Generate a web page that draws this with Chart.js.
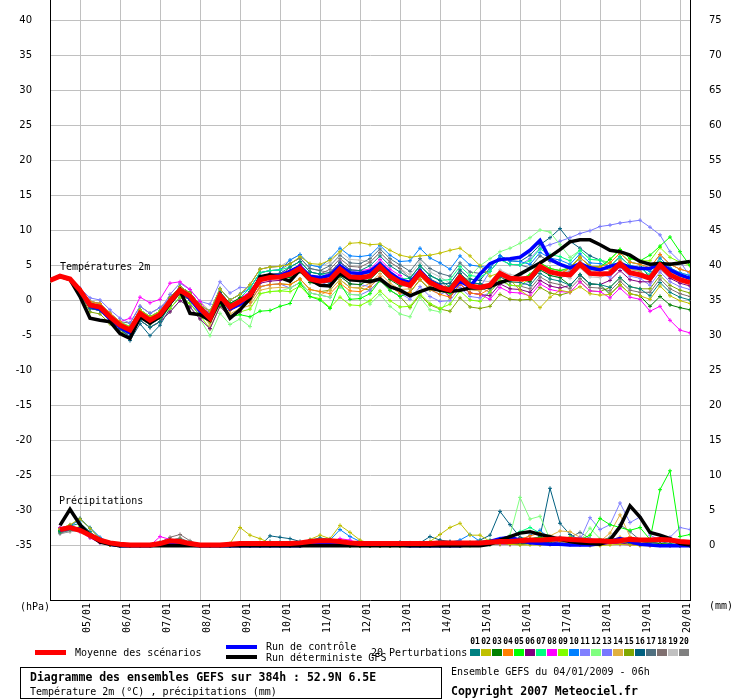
<!DOCTYPE html>
<html>
<head>
<meta charset="utf-8">
<script src="https://cdn.jsdelivr.net/npm/chart.js@4/dist/chart.umd.min.js"></script>
<style>
  body { margin: 0; background: #fff; }
  canvas { display: block; }
</style>
</head>
<body>
<canvas id="graphe" width="740" height="700"></canvas>
<script>
// échéances : toutes les 6h depuis le 04/01 06h
const heures = Array.from({ length: 65 }, (_, i) => i * 6);
const joursHeures = [18, 42, 66, 90, 114, 138, 162, 186, 210, 234, 258, 282, 306, 330, 354, 378];
const joursEtiquettes = ['05/01', '06/01', '07/01', '08/01', '09/01', '10/01', '11/01', '12/01',
  '13/01', '14/01', '15/01', '16/01', '17/01', '18/01', '19/01', '20/01'];
const ticksTemp = [-35, -30, -25, -20, -15, -10, -5, 0, 5, 10, 15, 20, 25, 30, 35, 40];
const ticksPrecip = [0, 5, 10, 15, 20, 25, 30, 35, 40, 45, 50, 55, 60, 65, 70, 75];

// températures 2m (°C)
const moyTemp = [2.9,3.5,3.1,1.5, -0.6,-0.9,-2.3,-3.5, -4.2,-1.8,-2.8,-2.0, -0.1,1.5,0.6,-1.1, -2.5,0.7,-0.9,-0.1, 0.8,3.0,3.3,3.4, 3.8,4.6,3.1,2.8, 3.0,4.5,3.4,3.3, 3.5,4.9,3.5,2.6, 2.2,4.0,2.6,1.9, 1.5,3.4,2.1,1.9, 2.2,3.9,3.2,3.1, 3.2,4.9,4.1,3.8, 3.7,5.2,3.9,3.8, 3.9,5.3,4.0,3.7, 3.2,5.1,3.7,3.0,2.6];
const ctrlTemp = [2.9,3.5,3.1,1.2, -0.8,-1.2,-2.6,-3.8, -4.6,-2.2,-3.0,-2.2, 0.0,1.6,0.3,-1.5, -2.7,0.9,-1.2,-0.5, 0.5,3.2,3.5,3.6, 4.2,4.9,3.5,3.3, 3.6,5.0,4.0,3.9, 4.2,5.3,4.0,3.0, 2.6,4.3,2.8,2.1, 1.3,2.8,2.0,3.8, 5.3,5.9,6.0,6.2, 7.2,8.6,5.9,5.2, 4.7,5.3,4.7,4.4, 4.9,5.3,4.8,4.6, 4.6,5.3,4.4,3.7,3.2];
const detTemp = [2.9,3.5,3.0,0.6, -2.5,-2.8,-3.0,-4.7, -5.4,-2.3,-3.2,-2.3, -0.4,1.5,-1.8,-2.0, -2.8,0.1,-2.5,-1.3, 0.3,3.4,3.7,3.3, 2.8,4.4,3.0,2.2, 2.1,3.9,3.0,2.9, 2.7,3.1,2.0,1.5, 0.7,1.3,1.8,1.5, 1.3,1.5,1.8,1.8, 2.0,2.6,3.0,3.8, 4.6,5.4,6.3,7.3, 8.4,8.7,8.7,8.0, 7.2,7.0,6.5,5.6, 5.2,5.3,5.2,5.4,5.6];

const pert01Temp = [2.9,3.5,3.1,1.3, -1.1,-1.4,-2.8,-4.0, -5.2,-2.8,-3.8,-3.0, -0.6,1.0,0.1,-1.6, -2.5,0.7,-0.9,-0.1, 1.3,3.5,3.8,3.9, 4.8,5.6,4.1,3.8, 4.0,5.5,4.4,4.3, 5.0,6.4,5.0,4.1, 3.2,5.0,3.6,2.9, 2.0,3.9,2.6,2.4, 1.7,3.4,2.7,2.6, 2.2,3.9,3.1,2.8, 2.2,3.7,2.4,2.3, 1.9,3.3,2.0,1.7, 0.7,2.6,1.2,0.5,0.1];
const pert02Temp = [2.9,3.5,3.1,1.6, -0.3,-0.6,-2.0,-3.2, -3.7,-1.3,-2.3,-1.5, 0.4,2.0,1.1,-0.6, -1.5,1.7,0.1,0.9, 2.3,4.5,4.8,4.9, 5.2,6.3,5.3,5.2, 5.8,7.0,8.2,8.3, 8.0,8.1,7.2,6.5, 6.2,6.4,6.5,6.8, 7.2,7.5,6.4,5.0, 3.5,4.0,3.0,1.5, 0.5,-1.0,0.5,1.5, 1.2,2.0,1.0,0.8, 0.9,2.3,1.0,0.7, 0.2,2.1,0.7,0.0,-0.4];
const pert03Temp = [2.9,3.5,3.1,1.4, -0.9,-1.2,-2.6,-3.8, -4.2,-1.8,-2.8,-2.0, 0.4,2.0,1.1,-0.6, -2.0,1.2,-0.4,0.4, 0.8,3.0,3.3,3.4, 3.3,4.1,2.6,2.3, 2.0,3.5,2.4,2.3, 3.0,4.4,3.0,2.1, 2.2,4.0,2.6,1.9, 2.0,3.9,2.6,2.4, 2.2,3.9,3.2,3.1, 2.7,4.4,3.6,3.3, 2.2,3.7,2.4,2.3, 0.9,2.3,1.0,0.7, -0.8,0.6,-0.6,-1.0,-1.3];
const pert04Temp = [2.9,3.5,3.1,1.7, -0.1,-0.4,-1.8,-3.0, -3.9,-1.5,-2.5,-1.7, -0.6,1.0,0.1,-1.6, -3.0,0.2,-1.4,-0.6, -0.2,2.0,2.3,2.4, 2.3,3.1,1.6,1.3, 1.0,2.5,1.4,1.3, 2.0,3.4,2.0,1.1, 1.2,3.0,1.6,0.9, 0.5,2.4,1.1,0.9, 1.7,3.4,2.7,2.6, 3.2,4.9,4.1,3.8, 4.7,6.2,4.9,4.8, 5.4,6.8,5.5,5.2, 4.7,6.6,5.2,4.5,4.1];
const pert05Temp = [2.9,3.5,3.1,1.5, -0.6,-0.9,-2.3,-3.5, -3.7,-1.3,-2.3,-1.5, -0.1,1.5,0.6,-1.1, -3.0,-0.5,-2.3,-2.0, -2.3,-1.5,-1.4,-0.8, -0.4,2.5,0.6,0.1, -1.1,2.5,0.2,0.3, 1.0,2.9,1.5,0.6, 1.2,3.0,1.6,1.4, 1.0,2.9,1.8,1.9, 2.2,3.9,3.2,3.1, 3.7,5.4,4.6,4.3, 4.7,6.2,4.9,4.8, 5.9,7.3,6.0,5.7, 6.5,7.8,9.1,7.0,5.0];
const pert06Temp = [2.9,3.5,3.1,1.3, -1.1,-1.4,-2.8,-4.0, -5.2,-2.8,-3.8,-3.0, -1.6,0.0,-0.9,-2.6, -4.0,-0.8,-2.4,-1.6, 0.3,2.5,2.8,2.9, 4.3,5.1,3.6,3.3, 3.5,5.0,3.9,3.8, 3.5,4.9,3.5,2.6, 2.2,4.0,2.6,1.9, 0.5,2.4,1.1,0.9, 0.7,2.4,1.7,1.6, 1.2,2.9,2.1,1.8, 2.2,3.7,2.4,2.3, 2.9,4.3,3.0,2.7, 2.7,4.6,3.2,2.5,2.1];
const pert07Temp = [2.9,3.5,3.1,1.7, -0.1,-0.4,-1.8,-3.0, -3.7,-1.3,-2.3,-1.5, -0.1,1.5,0.6,-1.1, -2.0,1.2,-0.4,0.4, 1.8,4.0,4.3,4.4, 4.8,5.6,4.1,3.8, 3.5,5.0,3.9,3.8, 4.0,5.4,4.0,3.1, 3.2,5.0,3.6,2.9, 3.0,4.9,3.6,3.4, 4.2,5.9,5.2,5.1, 5.7,7.4,6.6,6.3, 5.7,7.2,5.9,5.8, 4.9,6.3,5.0,4.7, 3.7,5.6,4.2,3.5,3.1];
const pert08Temp = [2.9,3.5,3.1,1.7, -0.1,-0.4,-1.8,-3.0, -2.5,0.5,-0.3,0.2, 2.5,2.7,1.6,-0.1, -2.0,1.2,-0.4,0.4, 1.3,3.5,3.8,3.9, 4.3,5.1,3.6,3.3, 4.0,5.5,4.4,4.3, 4.5,5.9,4.5,3.6, 2.2,4.0,2.6,1.9, 0.5,2.4,1.1,0.9, 0.2,1.9,1.2,1.1, 0.7,2.4,1.6,1.3, 1.2,2.7,1.4,1.3, 0.4,1.8,0.5,0.2, -1.5,-0.8,-2.8,-4.2,-4.6];
const pert09Temp = [2.9,3.5,3.1,1.5, -0.6,-0.9,-2.3,-3.5, -4.7,-2.3,-3.3,-2.5, -1.1,0.5,-0.4,-2.1, -4.0,-0.8,-2.4,-1.6, -1.2,1.0,1.3,1.4, 1.3,2.1,0.6,0.3, -1.0,0.5,-0.6,-0.7, 0.0,1.4,0.0,-0.9, -0.8,1.0,-0.4,-1.1, -0.5,1.4,0.1,-0.1, 1.2,2.9,2.2,2.1, 3.2,4.9,4.1,3.8, 4.7,6.2,4.9,4.8, 5.9,7.3,6.0,5.7, 5.7,7.6,6.2,5.5,5.1];
const pert10Temp = [2.9,3.5,3.1,1.3, -1.1,-1.4,-2.8,-4.0, -4.7,-2.3,-3.3,-2.5, 0.4,2.0,1.1,-0.6, -1.5,1.7,0.1,0.9, 1.8,4.0,4.3,4.4, 5.8,6.6,5.1,4.8, 6.0,7.5,6.4,6.3, 6.5,7.9,6.5,5.6, 5.7,7.5,6.1,5.4, 4.5,6.4,5.1,4.9, 4.7,6.4,5.7,5.6, 5.2,6.9,6.1,5.8, 5.2,6.7,5.4,5.3, 4.9,6.3,5.0,4.7, 4.2,6.1,4.7,4.0,3.6];
const pert11Temp = [2.9,3.5,3.1,1.5, -0.6,-0.9,-2.3,-3.5, -3.7,-1.3,-2.3,-1.5, 0.9,2.5,1.6,-0.1, -0.5,2.7,1.1,1.9, 1.8,4.0,4.3,4.4, 3.8,4.6,3.1,2.8, 2.0,3.5,2.4,2.3, 2.0,3.4,2.0,1.1, 0.2,2.0,0.6,-0.1, 0.0,1.9,0.6,0.4, 1.2,2.9,2.2,2.1, 2.7,4.4,3.6,3.3, 3.7,5.2,3.9,3.8, 3.4,4.8,3.5,3.2, 2.2,4.1,2.7,2.0,1.6];
const pert12Temp = [2.9,3.5,3.1,1.3, -1.1,-1.4,-2.8,-4.0, -5.2,-2.8,-3.8,-3.0, -1.6,0.0,-0.9,-2.6, -5.0,-1.8,-3.4,-2.6, -3.7,1.0,1.3,1.4, 1.8,2.6,1.1,0.8, 0.5,2.0,0.9,0.8, -0.5,0.9,-0.8,-1.9, -2.3,0.5,-1.3,-1.6, 0.5,2.4,3.5,5.0, 6.0,7.0,7.5,8.2, 9.0,10.1,9.8,8.0, 6.2,7.2,5.9,5.8, 5.4,6.8,5.5,5.2, 4.2,6.1,4.7,4.0,3.6];
const pert13Temp = [2.9,3.5,3.1,1.8, 0.4,0.1,-1.3,-2.5, -3.2,-0.8,-1.8,-1.0, 0.4,2.0,1.1,-0.6, -2.5,0.7,-0.9,-0.1, -0.2,2.0,2.3,2.4, 1.8,2.6,1.1,0.8, 0.5,2.0,0.9,0.8, 1.5,2.9,1.5,0.6, 1.2,3.0,1.6,0.9, 1.5,3.4,2.1,1.9, 4.2,5.9,5.2,5.1, 6.0,7.5,8.0,8.5, 9.0,9.6,10.0,10.6, 10.8,11.1,11.3,11.5, 10.5,9.4,7.0,5.6,3.5];
const pert14Temp = [2.9,3.5,3.1,1.7, -0.1,-0.4,-1.8,-3.0, -4.2,-1.8,-2.8,-2.0, -0.6,1.0,0.1,-1.6, -3.5,-0.3,-1.9,-1.1, -0.7,1.5,1.8,1.9, 1.8,2.6,1.1,0.8, 1.5,3.0,1.9,1.8, 2.5,3.9,2.5,1.6, 1.7,3.5,2.1,1.4, 1.0,2.9,1.6,1.4, 2.2,3.9,3.2,3.1, 3.7,5.4,4.6,4.3, 4.7,6.2,4.9,4.8, 4.4,5.8,4.5,4.2, 3.2,5.1,3.7,3.0,2.6];
const pert15Temp = [2.9,3.5,3.1,1.0, -1.6,-1.9,-3.3,-4.5, -4.7,-2.3,-3.3,-2.5, -0.6,1.0,0.1,-1.6, -3.0,0.2,-1.4,-0.6, -0.2,2.0,2.3,2.4, 2.3,3.1,1.6,1.3, 1.5,3.0,1.9,1.8, 1.5,2.9,1.5,0.6, -1.0,0.8,-0.6,-1.2, -1.5,0.4,-0.9,-1.1, -0.8,0.9,0.2,0.1, 0.2,1.9,1.1,0.8, 1.2,2.7,1.4,1.3, 1.9,3.3,2.0,1.7, 1.7,3.6,2.2,1.5,1.1];
const pert16Temp = [2.9,3.5,3.1,1.2, -1.1,-1.4,-2.8,-4.0, -5.7,-3.3,-5.0,-3.5, -1.1,0.5,-0.4,-2.1, -2.5,0.7,-0.9,-0.1, 1.3,3.5,3.8,3.9, 3.8,4.6,3.1,2.8, 2.5,4.0,2.9,2.8, 3.5,4.9,3.5,2.6, 2.7,4.5,3.1,2.4, 2.5,4.4,3.1,2.9, 4.7,6.4,5.7,5.6, 6.5,8.0,9.0,10.3, 8.5,7.5,6.4,5.8, 5.4,6.8,5.5,5.2, 3.2,5.1,3.7,3.0,2.6];
const pert17Temp = [2.9,3.5,3.1,1.5, -0.6,-0.9,-2.3,-3.5, -4.2,-1.8,-2.8,-2.0, 0.4,2.0,1.1,-0.6, -1.5,1.7,0.1,0.9, 2.3,4.5,4.8,4.9, 5.3,6.1,4.6,4.3, 5.0,6.5,5.4,5.3, 6.0,7.4,6.0,5.1, 4.2,6.0,4.6,3.9, 3.5,5.4,4.1,3.9, 4.2,5.9,5.2,5.1, 4.7,6.4,5.6,5.3, 4.7,6.2,4.9,4.8, 4.4,5.8,4.5,4.2, 3.2,5.1,3.7,3.0,2.6];
const pert18Temp = [2.9,3.5,3.1,1.7, -0.1,-0.4,-1.8,-3.0, -3.2,-0.8,-1.8,-1.0, 0.4,2.0,1.1,-0.6, -3.0,0.2,-1.4,-0.6, 0.8,3.0,3.3,3.4, 4.8,5.6,4.1,3.8, 4.5,6.0,4.9,4.8, 5.5,6.9,5.5,4.6, 3.2,5.0,3.6,2.9, 1.5,3.4,2.1,1.9, 1.2,2.9,2.2,2.1, 1.7,3.4,2.6,2.3, 1.7,3.2,1.9,1.8, 1.4,2.8,1.5,1.2, 1.2,3.1,1.7,1.0,0.6];
const pert19Temp = [2.9,3.5,3.1,1.5, -0.6,-0.9,-2.3,-3.5, -3.7,-1.3,-2.3,-1.5, 0.9,2.5,1.6,-0.1, -1.5,1.7,0.1,0.9, 2.3,4.5,4.8,4.9, 5.8,6.6,5.1,4.8, 5.5,7.0,5.9,5.8, 5.5,6.9,5.5,4.6, 3.7,5.5,4.1,3.4, 2.5,4.4,3.1,2.9, 2.7,4.4,3.7,3.6, 3.2,4.9,4.1,3.8, 3.2,4.7,3.4,3.3, 3.9,5.3,4.0,3.7, 3.7,5.6,4.2,3.5,3.1];
const pert20Temp = [2.9,3.5,3.1,1.3, -1.1,-1.4,-2.8,-4.0, -5.2,-2.8,-3.8,-3.0, -0.6,1.0,0.1,-1.6, -2.0,1.2,-0.4,0.4, 1.8,4.0,4.3,4.4, 5.3,6.1,4.6,4.3, 4.0,5.5,4.4,4.3, 4.0,5.4,4.0,3.1, 1.7,3.5,2.1,1.4, 1.0,2.9,1.6,1.4, 2.2,3.9,3.2,3.1, 3.7,5.4,4.6,4.3, 4.2,5.7,4.4,4.3, 4.9,6.3,5.0,4.7, 4.7,6.6,5.2,4.5,4.1];

// précipitations sur 6h (mm), de 12h le 04/01 au 20/01 06h
const moyPrecip = [2.3,2.6,2.2,1.5,0.8,0.4,0.2,0.1,0.1,0.1,0.3,0.7,0.6,0.3,0.1,0.1,
  0.1,0.2,0.3,0.3,0.3,0.3,0.3,0.3,0.4,0.6,0.7,0.7,0.6,0.4,0.3,0.3,
  0.3,0.3,0.3,0.3,0.3,0.3,0.4,0.4,0.4,0.4,0.4,0.5,0.6,0.6,0.7,0.8,
  0.8,0.9,1.0,0.9,0.8,0.7,0.7,0.6,0.7,0.9,0.8,0.8,0.9,0.8,0.6,0.5];
const ctrlPrecip = [2.2,2.5,2.4,1.6,0.8,0.2,0,0,0,0,0.2,0.5,0.4,0.1,0,0,
  0,0,0,0,0,0,0,0,0,0.2,0.3,0.4,0.3,0.3,0.2,0.3,
  0.3,0.2,0.1,0,0,0,0,0,0,0.2,0.4,0.6,1.0,1.2,0.8,0.4,
  0.3,0.2,0.2,0.1,0.1,0.1,0.3,0.6,1.0,0.6,0.2,0.1,0,0,0,0];
const detPrecip = [2.9,5.2,3.0,1.5,0.5,0.2,0,0,0,0,0,0,0,0,0,0,
  0,0,0,0,0,0,0,0,0,0,0,0,0,0,0,0,
  0,0,0,0,0,0,0,0,0,0,0,0.2,0.8,1.3,1.8,2.0,
  1.6,1.3,0.9,0.6,0.4,0.3,0.2,0.8,2.7,5.7,4.1,1.9,1.5,1.0,0.3,0.1];

const pert01Precip = [2.0,2.8,3.2,2.0,0.8,0.3,0.1,0,0,0,0.3,0.8,0.5,0.2,0,0,
  0,0,0,0,0,0.6,0.5,0.4,0.3,0.8,1.1,0.9,0.5,0.3,0.2,0.2,
  0.2,0.3,0.5,0.4,0.3,0.4,0.6,0.5,0.3,0.2,0.3,0.5,0.8,0.6,0.5,0.4,
  0.6,0.8,1.2,0.9,0.5,0.3,0.4,0.6,0.8,0.5,0.3,0.4,0.6,0.3,0.2,0.1];
const pert02Precip = [2.4,3.0,3.8,2.5,1.0,0.3,0,0,0,0,0.2,0.6,0.5,0.2,0,0,
  0,0.3,2.6,1.5,1.0,0.4,0.2,0.1,0.3,0.9,1.5,1.0,2.9,1.9,0.8,0.3,
  0.2,0.1,0.1,0.2,0.3,0.6,1.6,2.6,3.2,1.5,1.5,0.6,0.3,0.2,0.1,0.1,
  0.1,0.2,0.3,0.2,0.1,0,0,0.1,0.2,0.1,0,0,0.1,0,0,0];
const pert03Precip = [2.1,2.5,2.6,1.6,0.7,0.2,0,0,0,0,0.4,0.9,0.6,0.2,0,0,
  0,0,0,0,0,0,0,0,0,0.2,0.3,0.2,0.1,0,0,0,
  0,0,0,0,0,0,0,0,0,0.2,0.5,0.7,0.5,0.3,0.2,0.3,
  0.5,0.4,0.3,0.2,0.3,0.5,0.8,1.0,0.7,0.4,0.3,0.5,0.3,0.2,0.1,0];
const pert04Precip = [2.3,2.7,2.4,1.4,0.6,0.1,0,0,0,0,0.3,0.8,0.7,0.3,0,0,
  0,0,0,0,0,0,0,0,0,0.3,0.5,0.4,0.2,0.1,0,0,
  0,0,0,0,0,0,0,0,0.1,0.3,0.5,0.4,0.3,0.5,0.9,1.4,
  1.8,1.2,0.6,0.4,0.3,0.2,0.5,0.8,1.2,0.9,0.6,0.8,1.0,0.6,0.3,0.1];
const pert05Precip = [2.2,2.6,2.3,1.3,0.5,0.1,0,0,0,0,0.2,0.6,0.4,0.2,0,0,
  0,0,0,0,0,0,0,0,0,0.2,0.4,0.3,0.1,0,0,0,
  0,0,0,0,0,0,0,0,0,0,0.1,0.2,0.3,0.4,0.6,1.0,
  1.2,1.0,0.8,0.7,0.8,1.5,3.9,3.0,2.6,2.2,2.6,0.9,8.0,10.7,1.3,1.6];
const pert06Precip = [2.5,2.9,2.3,1.3,0.5,0.1,0,0,0,0,0.3,0.7,0.8,0.3,0,0,
  0,0,0,0,0,0,0,0,0,0.2,0.3,0.3,0.2,0.1,0,0,
  0,0,0,0,0,0,0,0,0,0.1,0.2,0.3,0.3,0.2,0.3,0.4,
  0.4,0.3,0.6,0.9,0.5,0.2,0.1,0.3,0.4,0.2,0.1,0.1,0.2,0.1,0,0];
const pert07Precip = [2.1,2.4,2.5,1.7,0.8,0.3,0,0,0,0,0.2,0.5,0.5,0.2,0,0,
  0,0,0,0,0,0,0,0,0.1,0.3,0.5,0.4,0.3,0.2,0.1,0.1,
  0.1,0.1,0.2,0.2,0.3,0.3,0.2,0.2,0.3,0.5,0.6,0.8,1.0,1.3,2.0,2.6,
  1.8,1.0,0.6,0.5,0.4,0.4,0.6,0.8,0.6,0.4,0.3,0.2,0.2,0.1,0,0];
const pert08Precip = [2.6,2.8,2.0,1.1,0.4,0.1,0,0,0,0,1.3,0.9,0.7,0.3,0,0,
  0,0,0,0,0,0,0,0,0,0.2,0.4,0.6,1.0,0.8,0.3,0.1,
  0,0,0,0,0,0,0,0,0,0.1,0.2,0.3,0.2,0.2,0.3,0.3,
  0.2,0.2,0.3,0.2,0.1,0.1,0.2,0.3,0.2,0.1,0.1,0,0,0,0,0];
const pert09Precip = [2.0,2.4,2.7,1.8,0.8,0.2,0,0,0,0,0.3,0.8,0.9,0.4,0,0,
  0,0,0,0,0,0,0,0,0.1,0.3,0.5,0.4,0.2,0.1,0,0,
  0,0,0,0,0,0,0,0,0.1,0.2,0.3,0.3,0.4,0.5,0.6,0.8,
  0.6,0.5,0.9,1.2,0.8,0.6,0.4,0.5,0.6,0.4,0.3,0.2,0.3,0.2,0.1,0];
const pert10Precip = [2.2,2.8,3.7,2.6,1.2,0.4,0.1,0,0,0,0.2,0.6,0.4,0.2,0,0,
  0,0,0,0,0,0,0,0,0.1,0.3,0.6,0.8,2.3,1.3,0.6,0.2,
  0.1,0.1,0.1,0.1,0.1,0.2,0.3,0.5,0.8,1.6,0.6,0.4,0.3,0.3,0.6,1.5,
  2.2,1.0,0.6,0.4,0.3,0.2,0.3,0.5,0.6,0.4,0.3,0.2,0.1,0.1,0,0];
const pert11Precip = [2.3,2.6,2.2,1.4,0.6,0.2,0,0,0,0,0.3,0.6,0.5,0.3,0,0,
  0,0,0,0,0,0,0,0,0,0.2,0.4,0.4,0.3,0.2,0.1,0.1,
  0.1,0.1,0.2,0.2,0.3,0.2,0.2,0.2,0.3,0.3,0.4,0.5,0.7,0.6,0.5,0.6,
  0.8,0.7,0.5,0.4,0.8,4.0,2.3,3.0,6.1,3.3,4.1,1.5,0.8,1.2,2.6,2.3];
const pert12Precip = [2.1,2.5,2.4,1.5,0.7,0.2,0,0,0,0,0.2,0.5,0.4,0.2,0,0,
  0,0,0,0,0,0,0,0,0,0.2,0.3,0.3,0.2,0.1,0,0,
  0,0,0,0,0,0,0,0,0,0.1,0.3,0.5,0.8,1.5,6.9,3.8,
  4.2,0.9,0.5,0.4,0.6,2.5,1.0,0.6,0.4,0.3,0.2,0.2,0.1,0.1,0,0];
const pert13Precip = [2.2,2.6,2.5,1.6,0.7,0.2,0,0,0,0,0.2,0.6,0.5,0.2,0,0,
  0,0,0,0,0,0,0,0,0,0.2,0.3,0.3,0.2,0.1,0,0,
  0,0,0,0,0,0,0,0,0.1,0.2,0.3,0.4,0.5,0.4,0.3,0.4,
  0.5,0.6,0.8,1.0,1.2,1.0,0.8,0.6,0.5,0.4,0.3,0.3,0.2,0.1,0.1,0];
const pert14Precip = [2.4,2.7,2.5,1.5,0.6,0.1,0,0,0,0,0.2,0.7,0.6,0.2,0,0,
  0,0,0,0,0,0,0,0,0,0.2,0.4,0.3,0.2,0.1,0,0,
  0,0,0,0,0,0,0,0,0,0.1,0.2,0.3,0.4,0.4,0.5,0.7,
  0.9,1.4,2.1,2.0,1.2,0.8,0.6,1.8,4.4,1.3,0.6,0.4,0.3,0.2,0.1,0];
const pert15Precip = [2.0,2.3,2.2,1.4,0.6,0.2,0,0,0,0,0.3,0.5,0.4,0.2,0,0,
  0,0,0,0,0,0,0,0,0,0.1,0.2,0.2,0.1,0,0,0,
  0,0,0,0,0,0,0,0,0,0.1,0.2,0.2,0.3,0.2,0.2,0.3,
  0.3,0.2,0.2,0.3,0.4,0.3,0.2,0.3,0.4,0.3,0.2,0.2,0.1,0.1,0,0];
const pert16Precip = [2.2,2.9,3.9,2.5,1.0,0.3,0,0,0,0,0.2,0.5,0.5,0.2,0,0,
  0,0,0,0,0,1.4,1.2,1.0,0.6,0.4,0.3,0.3,0.2,0.2,0.3,0.3,
  0.3,0.2,0.2,0.3,0.4,1.3,0.8,0.6,0.5,0.4,0.8,1.5,4.9,3.0,1.2,0.9,
  1.3,8.2,3.2,1.6,0.8,0.5,0.4,0.3,0.5,0.3,0.2,0.2,0.1,0.1,0,0];
const pert17Precip = [1.8,2.2,2.3,1.5,0.7,0.2,0,0,0,0,0.3,0.8,1.0,0.4,0,0,
  0,0,0,0,0,0,0,0,0,0.2,0.4,0.5,0.3,0.2,0.1,0.1,
  0.1,0.1,0.2,0.2,0.3,0.5,0.7,0.5,0.4,0.3,0.3,0.4,0.5,0.6,0.8,0.7,
  0.6,0.5,0.8,1.2,1.9,1.0,0.6,1.2,3.0,2.0,0.8,0.5,0.3,0.2,0.1,0];
const pert18Precip = [1.9,2.3,2.1,1.2,0.5,0.1,0,0,0,0,0.5,1.2,1.6,0.7,0.1,0,
  0,0,0,0,0,0,0,0,0,0.2,0.3,0.3,0.2,0.1,0,0,
  0,0,0,0,0,0,0,0,0,0.1,0.2,0.2,0.2,0.3,0.3,0.4,
  0.4,0.3,0.3,0.2,0.3,0.4,0.5,0.4,0.3,0.2,0.2,0.1,0.1,0,0,0];
const pert19Precip = [1.8,2.1,2.0,1.3,0.5,0.1,0,0,0,0,0.2,0.5,0.4,0.2,0,0,
  0,0,0,0,0,0,0,0,0,0.1,0.2,0.2,0.1,0,0,0,
  0,0,0,0,0,0,0,0,0,0.1,0.1,0.2,0.2,0.2,0.3,0.3,
  0.3,0.2,0.3,0.3,0.2,0.2,0.3,0.4,0.3,0.2,0.1,0.1,0.1,0,0,0];
const pert20Precip = [1.7,2.0,2.1,1.4,0.6,0.2,0,0,0,0,0.3,0.7,1.1,0.5,0.1,0,
  0,0,0,0,0,0,0,0,0,0.2,0.3,0.3,0.2,0.1,0,0,
  0,0,0,0,0,0,0,0,0,0.1,0.2,0.3,0.3,0.3,0.4,0.5,
  0.5,0.6,0.5,0.4,0.3,0.4,0.5,0.6,0.5,0.4,0.3,0.3,0.2,0.1,0.1,0];

const couleursPert = ['#008080', '#c0c000', '#008000', '#ff8000', '#00ff00', '#800080', '#00ff80',
  '#ff00ff', '#80ff00', '#0080ff', '#8080ff', '#80ff80', '#7878ff', '#e0b040', '#80a800',
  '#006080', '#507080', '#807070', '#c0c0c0', '#808080'];

const pertTemp = [pert01Temp, pert02Temp, pert03Temp, pert04Temp, pert05Temp, pert06Temp, pert07Temp,
  pert08Temp, pert09Temp, pert10Temp, pert11Temp, pert12Temp, pert13Temp, pert14Temp, pert15Temp,
  pert16Temp, pert17Temp, pert18Temp, pert19Temp, pert20Temp];
const pertPrecip = [pert01Precip, pert02Precip, pert03Precip, pert04Precip, pert05Precip, pert06Precip,
  pert07Precip, pert08Precip, pert09Precip, pert10Precip, pert11Precip, pert12Precip, pert13Precip,
  pert14Precip, pert15Precip, pert16Precip, pert17Precip, pert18Precip, pert19Precip, pert20Precip];

const MONO = '"DejaVu Sans Mono", monospace';

function enPoints(serie) {
  // les cumuls commencent à la 2e échéance
  return serie.map((v, j) => ({ x: heures[j + 1], y: v }));
}

function ligne(data, couleur, epaisseur, axe, ordre, marqueurs) {
  return {
    data: data,
    borderColor: couleur,
    backgroundColor: couleur,
    borderWidth: epaisseur,
    yAxisID: axe,
    order: ordre,
    pointRadius: marqueurs ? 2 : 0,
    pointStyle: 'cross',
    pointBorderWidth: 1,
    pointBorderColor: couleur,
    tension: 0,
    fill: false
  };
}

const datasets = [
  ligne(moyTemp, '#ff0000', 5, 'y', 0, false),
  ligne(enPoints(moyPrecip), '#ff0000', 5, 'y2', 0, false),
  ligne(detTemp, '#000000', 3.5, 'y', 1, false),
  ligne(enPoints(detPrecip), '#000000', 3.5, 'y2', 1, false),
  ligne(ctrlTemp, '#0000ff', 3.5, 'y', 2, false),
  ligne(enPoints(ctrlPrecip), '#0000ff', 3.5, 'y2', 2, false)
];
pertTemp.forEach((serie, k) => {
  datasets.push(ligne(serie, couleursPert[k], 1, 'y', 3 + k, true));
  datasets.push(ligne(enPoints(pertPrecip[k]), couleursPert[k], 1, 'y2', 3 + k, true));
});

const decor = {
  id: 'decor',
  afterDraw(chart) {
    const ctx = chart.ctx;
    ctx.save();
    ctx.fillStyle = '#000';
    ctx.textBaseline = 'middle';
    ctx.textAlign = 'left';
    ctx.font = '10px ' + MONO;
    ctx.fillText('Températures 2m', 60, 267);
    ctx.fillText('Précipitations', 59, 501);
    ctx.fillText('(hPa)', 20, 607);
    ctx.fillText('(mm)', 709, 606);

    // légende
    ctx.fillStyle = '#ff0000';
    ctx.fillRect(35, 650, 31, 5);
    ctx.fillStyle = '#0000ff';
    ctx.fillRect(226, 645, 31, 4);
    ctx.fillStyle = '#000000';
    ctx.fillRect(226, 655, 31, 4);
    ctx.fillStyle = '#000';
    ctx.fillText('Moyenne des scénarios', 75, 653);
    ctx.fillText('Run de contrôle', 266, 647);
    ctx.fillText('Run déterministe GFS', 266, 658);
    ctx.fillText('20 Perturbations', 371, 653);

    ctx.textAlign = 'center';
    ctx.font = 'bold 8px ' + MONO;
    couleursPert.forEach((c, k) => {
      const x = 470 + k * 11;
      ctx.fillStyle = '#000';
      ctx.fillText(String(k + 1).padStart(2, '0'), x + 5, 642);
      ctx.fillStyle = c;
      ctx.fillRect(x, 649, 10, 7);
    });

    // cartouche
    ctx.strokeStyle = '#000';
    ctx.lineWidth = 1;
    ctx.strokeRect(20.5, 667.5, 421, 31);
    ctx.fillStyle = '#000';
    ctx.textAlign = 'left';
    ctx.font = 'bold 11.5px ' + MONO;
    ctx.fillText('Diagramme des ensembles GEFS sur 384h : 52.9N 6.5E', 30, 678);
    ctx.fillText('Copyright 2007 Meteociel.fr', 451, 692);
    ctx.font = '10px ' + MONO;
    ctx.fillText('Température 2m (°C) , précipitations (mm)', 30, 692);
    ctx.fillText('Ensemble GEFS du 04/01/2009 - 06h', 451, 672);
    ctx.restore();
  }
};

new Chart(document.getElementById('graphe'), {
  type: 'line',
  data: { labels: heures, datasets: datasets },
  options: {
    responsive: false,
    animation: false,
    devicePixelRatio: 1,
    events: [],
    layout: { padding: 0, autoPadding: false },
    plugins: { legend: { display: false }, tooltip: { enabled: false } },
    scales: {
      x: {
        type: 'linear',
        position: 'bottom',
        min: 0,
        max: 384,
        afterBuildTicks: s => { s.ticks = joursHeures.map(v => ({ value: v })); },
        afterFit: s => { s.height = 100; s.paddingLeft = 0; s.paddingRight = 0; },
        ticks: {
          autoSkip: false,
          minRotation: 90,
          maxRotation: 90,
          padding: 3,
          labelOffset: 7,
          color: '#000',
          font: { family: MONO, size: 10 },
          callback: (v, i) => joursEtiquettes[i]
        },
        grid: { color: '#c0c0c0', drawTicks: false },
        border: { color: '#000', width: 1 }
      },
      y: {
        position: 'left',
        min: -42.76,
        max: 42.96,
        afterBuildTicks: s => { s.ticks = ticksTemp.map(v => ({ value: v })); },
        afterFit: s => { s.width = 50; s.paddingTop = 0; s.paddingBottom = 0; },
        ticks: { padding: 18, color: '#000', font: { family: '"DejaVu Sans"', size: 10 }, callback: v => v },
        grid: { color: '#c0c0c0', drawTicks: false },
        border: { color: '#000', width: 1 }
      },
      y2: {
        position: 'right',
        min: -7.76,
        max: 77.96,
        afterBuildTicks: s => { s.ticks = ticksPrecip.map(v => ({ value: v })); },
        afterFit: s => { s.width = 50; s.paddingTop = 0; s.paddingBottom = 0; },
        ticks: { padding: 19, color: '#000', font: { family: '"DejaVu Sans"', size: 10 }, callback: v => v },
        grid: { drawOnChartArea: false, drawTicks: false },
        border: { color: '#000', width: 1 }
      }
    }
  },
  plugins: [decor]
});
</script>
</body>
</html>
